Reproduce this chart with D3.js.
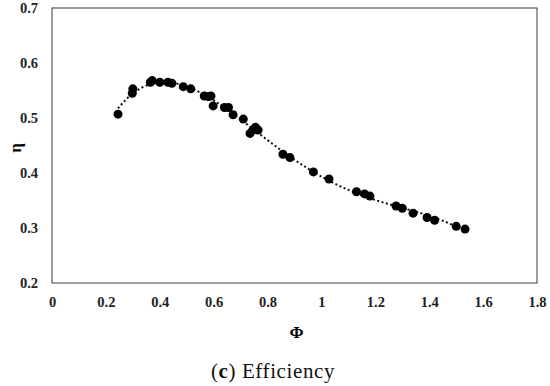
<!DOCTYPE html>
<meta charset="utf-8">
<script src="https://d3js.org/d3.v7.min.js"></script>
<style>
  body { margin: 0; background: #fff; }
  text { font-family: "Liberation Serif", "DejaVu Serif", serif; }
</style>
<body>
<svg id="svg"></svg>
</body>
<script>
  let width = 550;
  let height = 386;

  // measured points (phi, efficiency)
  let phi = [0.245, 0.298, 0.300, 0.365, 0.372, 0.400, 0.430, 0.445, 0.487, 0.515,
    0.565, 0.580, 0.590, 0.598, 0.640, 0.655, 0.672, 0.710, 0.735, 0.745,
    0.755, 0.765, 0.857, 0.883, 0.970, 1.028, 1.130, 1.160, 1.180, 1.277,
    1.300, 1.340, 1.392, 1.420, 1.500, 1.533];
  let eta = [0.507, 0.545, 0.553, 0.565, 0.568, 0.565, 0.565, 0.563, 0.557, 0.553,
    0.540, 0.539, 0.540, 0.522, 0.519, 0.519, 0.506, 0.498, 0.472, 0.478,
    0.483, 0.478, 0.434, 0.428, 0.402, 0.389, 0.366, 0.362, 0.358, 0.340,
    0.336, 0.327, 0.319, 0.314, 0.303, 0.298];

  let xTicks = [0, 0.2, 0.4, 0.6, 0.8, 1, 1.2, 1.4, 1.6, 1.8];
  let yTicks = [0.2, 0.3, 0.4, 0.5, 0.6, 0.7];

  let plotL = 52, plotR = 537, plotT = 8, plotB = 283;

  let svg = d3.select('#svg')
    .attr('width', width)
    .attr('height', height);

  let x = d3.scaleLinear().domain([0, 1.8]).range([plotL, plotR]);
  let y = d3.scaleLinear().domain([0.2, 0.7]).range([plotB, plotT]);

  // frame
  svg.append('rect')
    .attr('x', plotL).attr('y', plotT)
    .attr('width', plotR - plotL).attr('height', plotB - plotT)
    .attr('fill', 'none')
    .attr('stroke', '#3a3a3a')
    .attr('stroke-width', 1);

  let xAxis = svg.append('g')
    .attr('transform', `translate(0,${plotB})`)
    .call(d3.axisBottom(x).tickValues(xTicks).tickSize(0).tickPadding(14)
      .tickFormat(d => d3.format('~g')(d)));
  let yAxis = svg.append('g')
    .attr('transform', `translate(${plotL},0)`)
    .call(d3.axisLeft(y).tickValues(yTicks).tickSize(0).tickPadding(14)
      .tickFormat(d3.format('.1f')));

  [xAxis, yAxis].forEach(a => {
    a.select('.domain').remove();
    a.selectAll('text')
      .attr('font-family', '"Liberation Serif", "DejaVu Serif", serif')
      .attr('font-weight', 'bold')
      .attr('font-size', 14.5)
      .attr('fill', '#222');
  });

  // polynomial trend line (least squares, order 4)
  function polyfit(xs, ys, order) {
    let n = order + 1;
    let A = [];
    for (let i = 0; i < n; i++) {
      A.push(new Array(n + 1).fill(0));
    }
    xs.forEach((xv, k) => {
      for (let i = 0; i < n; i++) {
        for (let j = 0; j < n; j++) A[i][j] += Math.pow(xv, i + j);
        A[i][n] += ys[k] * Math.pow(xv, i);
      }
    });
    for (let i = 0; i < n; i++) {
      let p = i;
      for (let r = i + 1; r < n; r++) if (Math.abs(A[r][i]) > Math.abs(A[p][i])) p = r;
      [A[i], A[p]] = [A[p], A[i]];
      for (let r = 0; r < n; r++) {
        if (r === i) continue;
        let f = A[r][i] / A[i][i];
        for (let c = i; c <= n; c++) A[r][c] -= f * A[i][c];
      }
    }
    return A.map((row, i) => row[n] / row[i]);
  }
  let coef = polyfit(phi, eta, 4);
  let fx = v => coef.reduce((s, c, i) => s + c * Math.pow(v, i), 0);
  let xs = d3.range(d3.min(phi), d3.max(phi) + 0.001, 0.01);

  svg.append('path')
    .datum(xs)
    .attr('d', d3.line().x(d => x(d)).y(d => y(fx(d))))
    .attr('fill', 'none')
    .attr('stroke', '#111')
    .attr('stroke-width', 2)
    .attr('stroke-dasharray', '2,2.5');

  svg.selectAll('circle')
    .data(phi)
    .enter()
    .append('circle')
    .attr('cx', d => x(d))
    .attr('cy', (d, i) => y(eta[i]))
    .attr('r', 4.5)
    .attr('fill', '#000');

  // axis titles
  svg.append('text')
    .attr('transform', 'translate(21,148) rotate(-90)')
    .attr('text-anchor', 'middle')
    .attr('font-size', 17)
    .attr('font-weight', 'bold')
    .text('η');

  svg.append('text')
    .attr('x', (plotL + plotR) / 2 + 2)
    .attr('y', 338)
    .attr('text-anchor', 'middle')
    .attr('font-size', 17)
    .attr('font-weight', 'bold')
    .text('Φ');

  let cap = svg.append('text')
    .attr('x', 273)
    .attr('y', 378)
    .attr('text-anchor', 'middle')
    .attr('font-size', 21)
    .attr('letter-spacing', 0.6)
    .attr('fill', '#111');
  cap.append('tspan').text('(');
  cap.append('tspan').attr('font-weight', 'bold').text('c');
  cap.append('tspan').text(') Efficiency');
</script>
